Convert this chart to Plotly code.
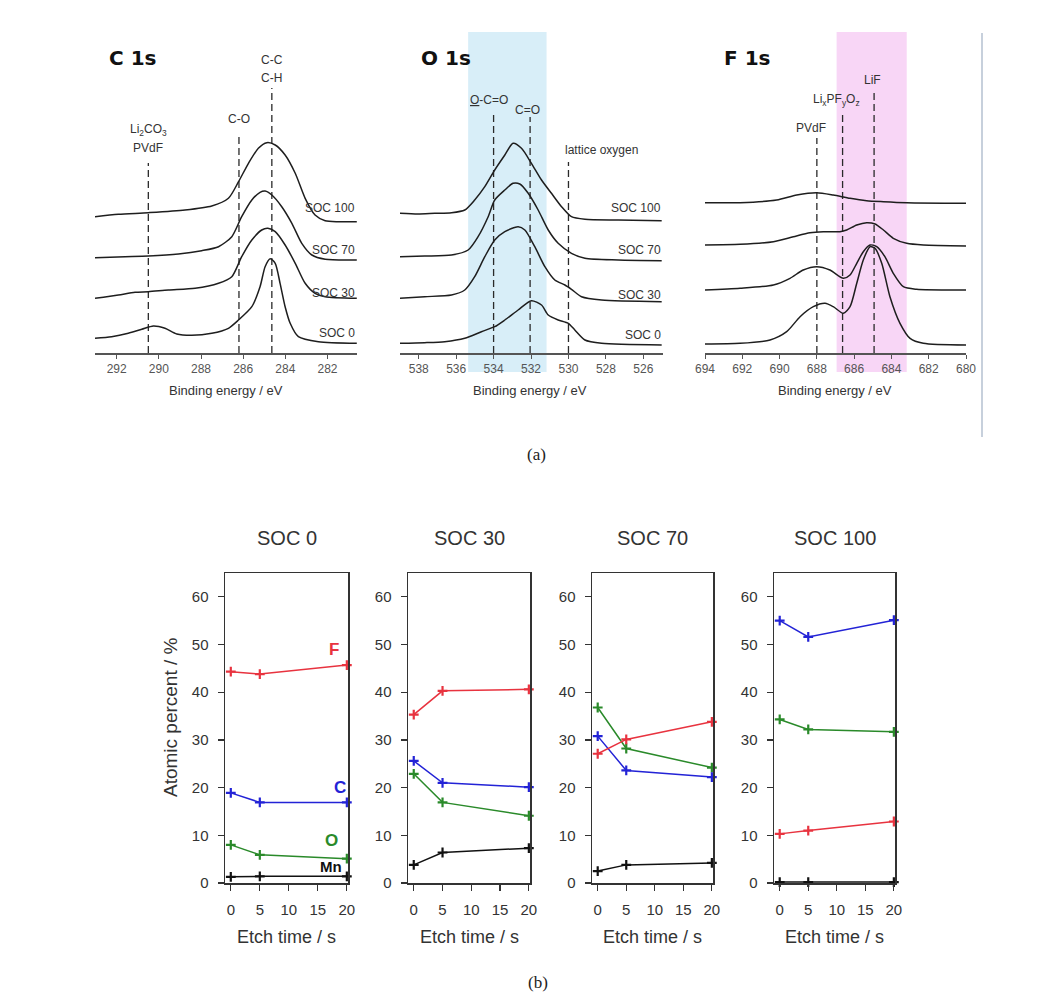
import plotly.graph_objects as go

W, H = 1064, 998


def px(x):
    return x / W


def py(y):
    return 1 - y / H


# ---------------- (a) XPS spectra: binding energy (eV) and intensity (a.u., stacked) ----------------
c1s_soc100_e = [293.03, 291.92, 290.50, 288.76, 287.49, 286.70, 286.22, 285.75, 285.28, 284.88, 284.48, 284.01, 283.53, 283.06, 282.59, 282.11, 281.48, 280.61]
c1s_soc100_i = [136.3, 138.7, 140.3, 143.0, 147.0, 154.7, 171.3, 189.7, 204.7, 210.3, 208.0, 198.0, 179.7, 154.7, 138.0, 132.3, 131.3, 131.3]
c1s_soc70_e = [293.03, 291.60, 290.50, 289.07, 287.97, 287.17, 286.54, 286.07, 285.59, 285.20, 284.96, 284.64, 284.17, 283.69, 283.22, 282.74, 282.11, 280.61]
c1s_soc70_i = [95.3, 96.3, 97.0, 99.0, 102.3, 106.3, 116.3, 136.3, 153.0, 160.7, 162.0, 158.0, 146.3, 129.7, 109.7, 98.0, 93.7, 93.0]
c1s_soc30_e = [293.03, 291.92, 291.13, 290.50, 289.55, 288.28, 287.17, 286.54, 286.07, 285.59, 285.12, 284.83, 284.48, 284.01, 283.53, 283.06, 282.59, 282.11, 280.61]
c1s_soc30_i = [54.7, 58.0, 60.7, 61.3, 63.0, 64.7, 69.7, 76.3, 96.3, 113.0, 123.0, 124.7, 121.3, 108.0, 89.7, 69.7, 59.7, 56.3, 54.7]
c1s_soc0_e = [293.03, 292.24, 291.45, 290.81, 290.26, 289.71, 289.15, 288.44, 287.49, 286.70, 286.22, 285.59, 285.20, 284.96, 284.72, 284.48, 284.25, 284.01, 283.77, 283.38, 282.43, 280.61]
c1s_soc0_i = [14.7, 16.3, 19.7, 23.7, 27.0, 24.7, 19.0, 17.7, 19.7, 24.7, 33.0, 46.3, 66.3, 86.3, 94.3, 89.7, 69.7, 46.3, 29.7, 16.3, 11.3, 9.7]

o1s_soc100_e = [539.02, 538.04, 537.14, 536.25, 535.54, 535.01, 534.47, 533.94, 533.40, 532.96, 532.51, 531.98, 531.44, 530.91, 530.37, 529.84, 529.12, 527.34, 525.02]
o1s_soc100_i = [139.7, 139.0, 139.7, 140.3, 143.0, 153.0, 166.3, 183.0, 198.0, 209.7, 204.7, 189.7, 173.0, 159.7, 146.3, 136.3, 133.7, 133.0, 132.3]
o1s_soc70_e = [539.02, 537.68, 536.25, 535.36, 534.83, 534.29, 533.94, 533.40, 532.96, 532.60, 532.15, 531.62, 531.08, 530.55, 529.84, 529.12, 527.34, 525.02]
o1s_soc70_i = [96.3, 97.0, 98.0, 103.0, 116.3, 136.3, 153.0, 163.0, 169.7, 169.0, 159.7, 143.0, 123.0, 109.7, 99.7, 94.7, 93.0, 92.3]
o1s_soc30_e = [539.02, 537.68, 536.25, 535.54, 535.01, 534.47, 533.94, 533.40, 532.69, 532.33, 531.80, 531.26, 530.73, 530.19, 529.84, 529.30, 528.23, 525.02]
o1s_soc30_i = [54.7, 56.3, 58.0, 63.0, 76.3, 96.3, 113.0, 121.3, 126.3, 123.0, 106.3, 86.3, 73.0, 68.0, 63.7, 56.3, 53.0, 51.3]
o1s_soc0_e = [539.02, 537.68, 536.61, 535.54, 534.65, 533.94, 533.40, 532.69, 531.98, 531.44, 531.08, 530.55, 530.01, 529.66, 529.12, 528.23, 525.02]
o1s_soc0_i = [9.7, 10.3, 11.3, 14.7, 21.3, 26.3, 33.0, 43.0, 52.3, 48.0, 38.0, 33.0, 29.7, 23.0, 13.0, 9.7, 8.0]

f1s_soc100_e = [694.00, 692.12, 690.16, 689.08, 688.01, 687.12, 686.22, 685.33, 684.43, 683.18, 679.96]
f1s_soc100_i = [150.3, 150.3, 153.0, 158.0, 160.3, 158.0, 154.7, 152.3, 151.3, 150.3, 149.7]
f1s_soc70_e = [694.00, 692.12, 690.33, 689.26, 688.37, 687.65, 686.76, 686.40, 685.86, 685.33, 684.88, 684.43, 683.90, 683.18, 682.29, 679.96]
f1s_soc70_i = [108.0, 108.7, 111.3, 116.3, 120.3, 121.3, 121.3, 123.0, 128.0, 130.3, 129.0, 123.0, 114.7, 109.7, 108.0, 107.0]
f1s_soc30_e = [694.00, 692.12, 690.33, 689.44, 688.73, 688.01, 687.30, 686.58, 686.22, 685.86, 685.51, 685.15, 684.79, 684.35, 683.90, 683.36, 682.65, 679.96]
f1s_soc30_i = [63.0, 64.7, 68.0, 74.7, 83.0, 86.3, 83.0, 74.7, 78.0, 89.7, 101.3, 108.0, 106.3, 96.3, 79.7, 66.3, 63.7, 63.0]
f1s_soc0_e = [694.00, 692.12, 690.51, 689.62, 688.90, 688.19, 687.56, 687.12, 686.58, 686.22, 685.86, 685.51, 685.15, 684.88, 684.52, 684.08, 683.54, 683.00, 682.29, 679.96]
f1s_soc0_i = [9.0, 9.7, 13.0, 21.3, 36.3, 46.3, 49.7, 46.3, 39.7, 46.3, 69.7, 93.0, 106.3, 104.7, 89.7, 56.3, 29.7, 14.7, 9.7, 8.0]

soc_labels = ["SOC 100", "SOC 70", "SOC 30", "SOC 0"]
c1s_label_y = [145, 103, 60, 20]
o1s_label_y = [145, 103, 58, 18]
f1s_label_y = [160, 116, 71, 20]

# reference peak positions (eV), and top of dashed marker (a.u.)
c1s_peaks = [290.5, 286.2, 284.64]
c1s_peak_top = [190, 218, 265]
o1s_peaks = [534.0, 532.05, 530.0]
o1s_peak_top = [241, 236, 191]
f1s_peaks = [688.0, 686.62, 684.93]
f1s_peak_top = [215, 240, 260]

c1s_ticks = [292, 290, 288, 286, 284, 282]
o1s_ticks = [538, 536, 534, 532, 530, 528, 526]
f1s_ticks = [694, 692, 690, 688, 686, 684, 682, 680]

o1s_band = [535.36, 531.17]
f1s_band = [686.94, 683.18]

# ---------------- (b) atomic percent vs etch time ----------------
etch_time = [0, 5, 20]
bottom_titles = ["SOC 0", "SOC 30", "SOC 70", "SOC 100"]
F_pct = [[44.3, 43.8, 45.7], [35.3, 40.3, 40.6], [27.1, 30.1, 33.8], [10.3, 11.0, 12.9]]
C_pct = [[18.9, 16.9, 16.9], [25.6, 21.0, 20.1], [30.8, 23.6, 22.2], [55.0, 51.6, 55.1]]
O_pct = [[8.0, 5.9, 5.1], [22.9, 16.9, 14.1], [36.8, 28.2, 24.2], [34.3, 32.2, 31.7]]
Mn_pct = [[1.3, 1.4, 1.4], [3.8, 6.4, 7.3], [2.5, 3.8, 4.2], [0.2, 0.2, 0.2]]
bottom_xticks = [0, 5, 10, 15, 20]
bottom_yticks = [0, 10, 20, 30, 40, 50, 60]

fig = go.Figure()
LINE = "#1e1e1e"
FONT = "Liberation Sans, Arial, sans-serif"

# ---- top spectra ----
top_sets = [
    ("x", "y", [(c1s_soc100_e, c1s_soc100_i), (c1s_soc70_e, c1s_soc70_i), (c1s_soc30_e, c1s_soc30_i), (c1s_soc0_e, c1s_soc0_i)], c1s_peaks, c1s_peak_top),
    ("x2", "y2", [(o1s_soc100_e, o1s_soc100_i), (o1s_soc70_e, o1s_soc70_i), (o1s_soc30_e, o1s_soc30_i), (o1s_soc0_e, o1s_soc0_i)], o1s_peaks, o1s_peak_top),
    ("x3", "y3", [(f1s_soc100_e, f1s_soc100_i), (f1s_soc70_e, f1s_soc70_i), (f1s_soc30_e, f1s_soc30_i), (f1s_soc0_e, f1s_soc0_i)], f1s_peaks, f1s_peak_top),
]
for xa, ya, curves, peaks, tops in top_sets:
    for pk, tp in zip(peaks, tops):
        fig.add_trace(go.Scatter(x=[pk, pk], y=[0, tp], mode="lines", xaxis=xa, yaxis=ya,
                                 line=dict(color="#2a2a2a", width=1.3, dash="7px,4px"), showlegend=False, hoverinfo="skip"))
    for e, i in curves:
        fig.add_trace(go.Scatter(x=e, y=i, mode="lines", xaxis=xa, yaxis=ya,
                                 line=dict(color=LINE, width=1.5, shape="spline", smoothing=0.7),
                                 showlegend=False, hoverinfo="skip"))

# ---- bottom panels ----
elem_colors = {"F": "#e8333f", "C": "#2323d6", "O": "#2a8a2a", "Mn": "#111111"}
for k in range(4):
    xa, ya = f"x{k + 4}", f"y{k + 4}"
    for name, arr in (("Mn", Mn_pct), ("O", O_pct), ("C", C_pct), ("F", F_pct)):
        fig.add_trace(go.Scatter(x=etch_time, y=arr[k], mode="lines+markers", xaxis=xa, yaxis=ya,
                                 line=dict(color=elem_colors[name], width=1.5),
                                 marker=dict(symbol="cross-thin", size=7, line=dict(color=elem_colors[name], width=2.2)),
                                 cliponaxis=False, showlegend=False, hoverinfo="skip"))

layout = dict(template="none", autosize=False, width=W, height=H,
              margin=dict(l=0, r=0, t=0, b=0, pad=0, autoexpand=False),
              paper_bgcolor="white", plot_bgcolor="white", showlegend=False,
              font=dict(family=FONT, color="#333"))

top_y_dom = [py(353), py(30)]
top_axes = [
    ("xaxis", "yaxis", "y", "x", [95, 357], [293.03, 280.6], c1s_ticks),
    ("xaxis2", "yaxis2", "y2", "x2", [400, 663], [539.0, 524.95], o1s_ticks),
    ("xaxis3", "yaxis3", "y3", "x3", [705, 966], [694.0, 680.0], f1s_ticks),
]
for xk, yk, yref, xref, dom, rng, ticks in top_axes:
    layout[xk] = dict(domain=[px(dom[0]), px(dom[1])], range=rng, anchor=yref, automargin=False,
                      showline=True, linecolor="#555", linewidth=1.5, showgrid=False, zeroline=False,
                      ticks="outside", ticklen=4, tickwidth=1, tickcolor="#555",
                      tickvals=ticks, tickfont=dict(size=12, color="#555", family=FONT))
    layout[yk] = dict(domain=top_y_dom, range=[0, 323], anchor=xref, visible=False, automargin=False)

bottom_dom = [[225, 348], [408, 530], [592, 713], [774, 895]]
for k, dom in enumerate(bottom_dom):
    n = k + 4
    layout[f"xaxis{n}"] = dict(domain=[px(dom[0]), px(dom[1])], range=[-1, 20.2], anchor=f"y{n}", automargin=False,
                               showline=True, mirror=True, linecolor="#333", linewidth=1.5,
                               showgrid=False, zeroline=False, ticks="outside", ticklen=6, tickwidth=1.2,
                               tickcolor="#333", tickvals=bottom_xticks, ticklabelstandoff=6,
                               tickfont=dict(size=15, color="#333", family=FONT))
    layout[f"yaxis{n}"] = dict(domain=[py(883), py(573)], range=[0, 65], anchor=f"x{n}", automargin=False,
                               showline=True, mirror=True, linecolor="#333", linewidth=1.5,
                               showgrid=False, zeroline=False, ticks="outside", ticklen=6, tickwidth=1.2,
                               tickcolor="#333", tickvals=bottom_yticks, ticklabelstandoff=6,
                               tickfont=dict(size=15, color="#333", family=FONT))

fig.update_layout(**layout)

# shaded bands
fig.add_shape(type="rect", xref="x2", yref="paper", x0=o1s_band[0], x1=o1s_band[1],
              y0=py(372), y1=py(32), fillcolor="#d8eef8", line=dict(width=0), layer="below")
fig.add_shape(type="rect", xref="x3", yref="paper", x0=f1s_band[0], x1=f1s_band[1],
              y0=py(372), y1=py(32), fillcolor="#f8d6f6", line=dict(width=0), layer="below")
# frame line at right of (a)
fig.add_shape(type="line", xref="paper", yref="paper", x0=px(982), x1=px(982), y0=py(33), y1=py(437),
              line=dict(color="#b4c0d0", width=1.5))

ann = []


def A(text, x, y, xref="paper", yref="paper", size=12, color="#333", xanchor="center", yanchor="middle",
      bold=False, family=FONT, angle=0):
    font = dict(size=size, color=color, family=family)
    if bold:
        font["weight"] = "bold"
    ann.append(dict(text=text, x=x, y=y, xref=xref, yref=yref, showarrow=False,
                    font=font, xanchor=xanchor, yanchor=yanchor, textangle=angle, borderpad=0))


# panel titles (a)
A("C 1s", px(108), py(58), size=20, color="#111", xanchor="left", bold=True, family="DejaVu Sans, Verdana, sans-serif")
A("O 1s", px(420), py(58), size=20, color="#111", xanchor="left", bold=True, family="DejaVu Sans, Verdana, sans-serif")
A("F 1s", px(723), py(58), size=20, color="#111", xanchor="left", bold=True, family="DejaVu Sans, Verdana, sans-serif")

# SOC labels in (a)
for lab, yv in zip(soc_labels, c1s_label_y):
    A(lab, 280.65, yv, "x", "y", size=12, xanchor="right")
for lab, yv in zip(soc_labels, o1s_label_y):
    A(lab, 525.02, yv, "x2", "y2", size=12, xanchor="right")
for lab, yv in zip(soc_labels, f1s_label_y):
    A(lab, 679.96, yv, "x3", "y3", size=12, xanchor="right")

# peak labels
A("C-C", 284.64, 293, "x", "y", size=12)
A("C-H", 284.64, 275, "x", "y", size=12)
A("C-O", 286.2, 234, "x", "y", size=12)
A("Li<sub>2</sub>CO<sub>3</sub>", 290.5, 223, "x", "y", size=12)
A("PVdF", 290.5, 205, "x", "y", size=12)
A("<u>O</u>-C=O", 534.26, 253, "x2", "y2", size=12)
A("C=O", 532.17, 243, "x2", "y2", size=12)
A("lattice oxygen", 528.21, 203, "x2", "y2", size=12)
A("PVdF", 688.33, 225, "x3", "y3", size=12)
A("Li<sub>x</sub>PF<sub>y</sub>O<sub>z</sub>", 686.93, 253, "x3", "y3", size=12)
A("LiF", 685.0, 273, "x3", "y3", size=12)

# axis titles (a)
A("Binding energy / eV", px(226), py(390), size=13)
A("Binding energy / eV", px(530), py(390), size=13)
A("Binding energy / eV", px(835), py(390), size=13)
A("(a)", px(536), py(454), size=17, color="#222", family="Liberation Serif, DejaVu Serif, serif")

# (b) titles and labels
for k, dom in enumerate(bottom_dom):
    cx = px((dom[0] + dom[1]) / 2)
    A(bottom_titles[k], cx, py(538), size=20, color="#333")
    A("Etch time / s", cx, py(937), size=18, color="#333")
A("Atomic percent / %", px(170), py(717), size=19, color="#333", angle=-90)
A("(b)", px(538), py(982), size=17, color="#222", family="Liberation Serif, DejaVu Serif, serif")

# element labels in SOC 0 panel
A("F", 17.8, 48.9, "x4", "y4", size=17, color=elem_colors["F"], bold=True)
A("C", 18.8, 20.1, "x4", "y4", size=17, color=elem_colors["C"], bold=True)
A("O", 17.3, 9.0, "x4", "y4", size=17, color=elem_colors["O"], bold=True)
A("Mn", 17.2, 3.4, "x4", "y4", size=15, color="#111", bold=True)

fig.update_layout(annotations=ann)
# place the figure at the page origin (the browser's default body margin would offset it)
fig.write_html("out.html", config={"displayModeBar": False, "staticPlot": True},
               post_script="document.body.style.margin='0';document.body.style.padding='0';")
